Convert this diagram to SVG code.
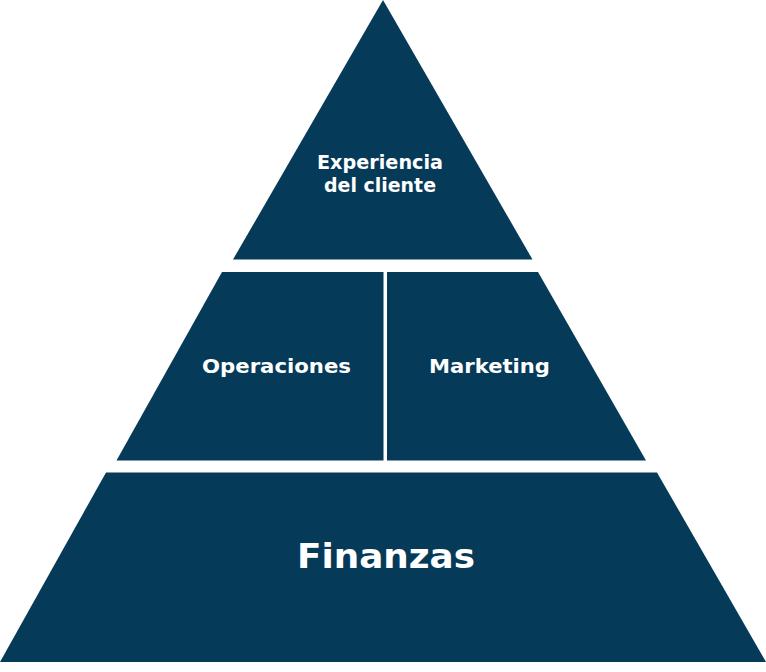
<svg xmlns="http://www.w3.org/2000/svg" width="766" height="672" viewBox="0 0 766 672">
<style>
.tier{fill:#063a59}
.lbl{fill:#ffffff;font-family:"DejaVu Sans","Liberation Sans",sans-serif;font-weight:bold;text-anchor:middle}
.sm{font-size:19px}
.lg{font-size:33px}
</style>
<rect width="766" height="672" fill="#ffffff"/>
<g id="experiencia">
<polygon class="tier" points="383,0 532.5,259.5 233,259.5"/>
<text class="lbl sm" x="380" y="169" textLength="126" lengthAdjust="spacingAndGlyphs">Experiencia</text>
<text class="lbl sm" x="380" y="191.5" textLength="112" lengthAdjust="spacingAndGlyphs">del cliente</text>
</g>
<g id="operaciones">
<polygon class="tier" points="222,272 383.5,272 383.5,460.5 116.5,460.5"/>
<text class="lbl sm" x="276.5" y="372.5" textLength="149" lengthAdjust="spacingAndGlyphs">Operaciones</text>
</g>
<g id="marketing">
<polygon class="tier" points="387,272 538,272 646,460.5 387,460.5"/>
<text class="lbl sm" x="489.5" y="372.5" textLength="121" lengthAdjust="spacingAndGlyphs">Marketing</text>
</g>
<g id="finanzas">
<polygon class="tier" points="106,472.5 657,472.5 766,662 0,662"/>
<text class="lbl lg" x="386" y="568" textLength="178" lengthAdjust="spacingAndGlyphs">Finanzas</text>
</g>
<g id="connectors"></g>
</svg>
